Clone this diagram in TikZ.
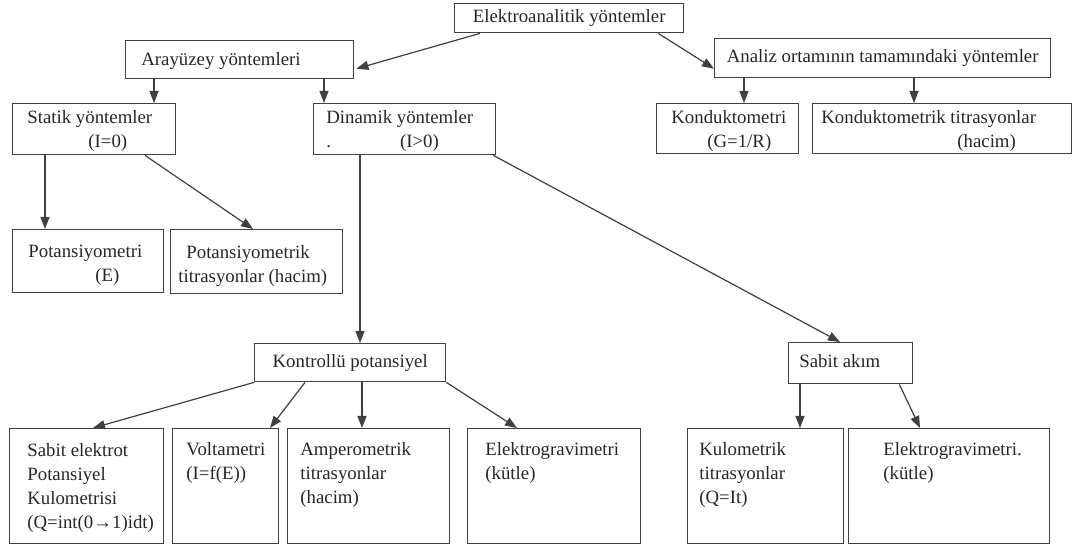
\documentclass[tikz,border=0pt]{standalone}
\usepackage{fontspec}
\setmainfont{Liberation Serif}
\usetikzlibrary{arrows.meta}

\tikzset{
    kutu/.style={draw=black!75, line width=0.7pt, anchor=north west, inner sep=0pt},
    yazi/.style={anchor=north west, align=left, inner sep=0pt, text=black!85},
    ok/.style={draw=black!75, line width=0.6pt, -{Triangle[length=6pt, width=4.5pt]}}
}

\begin{document}
\begin{tikzpicture}[x=0.5pt, y=-0.5pt, font=\fontsize{9.4}{12}\selectfont, text=black!85]
    \useasboundingbox (0,0) rectangle (1073,545);
    \path node[kutu, minimum width=114.5pt, minimum height=14.5pt] (elek) at (454,3) {Elektroanalitik yöntemler}
        node[kutu, minimum width=114pt, minimum height=19pt,
            label={[yazi, xshift=8pt, yshift=-6pt]north west:{Arayüzey yöntemleri}}] (arayuzey) at (125,40) {}
        node[kutu, minimum width=168pt, minimum height=19.5pt] (analiz) at (714,38) {Analiz ortamının tamamındaki yöntemler}
        node[kutu, minimum width=81.5pt, minimum height=25.5pt,
            label={[yazi, xshift=7.5pt, yshift=-3.5pt]north west:{Statik yöntemler\\\hspace*{30.5pt}(I=0)}}] (statik) at (12,103) {}
        node[kutu, minimum width=91pt, minimum height=25.5pt,
            label={[yazi, xshift=6.5pt, yshift=-3.5pt]north west:{Dinamik yöntemler\\.\hspace*{34.5pt}(I>0)}}] (dinamik) at (313,103) {}
         node[kutu, minimum width=71pt, minimum height=25pt,
            label={[yazi, xshift=7.5pt, yshift=-3.5pt]north west:{Konduktometri\\\hspace*{18pt}(G=1/R)}}] (kond) at (656,103) {}
         node[kutu, minimum width=129.5pt, minimum height=25pt,
            label={[yazi, xshift=4.5pt, yshift=-3.5pt]north west:{Konduktometrik titrasyonlar\\\hspace*{68pt}(hacim)}}] (kondtitr) at (812,103) {}
        node[kutu, minimum width=75.5pt, minimum height=31.5pt,
            label={[yazi, xshift=8pt, yshift=-8pt]north west:{Potansiyometri\\\hspace*{33.5pt}(E)}}] (pot) at (12,229) {}
        node[kutu, minimum width=86pt, minimum height=32pt,
            label={[yazi, xshift=4pt, yshift=-8pt]north west:{\hspace*{4pt}Potansiyometrik\\titrasyonlar (hacim)}}] (pottitr) at (170,229) {}
        node[kutu, minimum width=95.5pt, minimum height=19pt] (kontrollu) at (254,343) {Kontrollü potansiyel}
        node[kutu, minimum width=62pt, minimum height=20.5pt,
            label={[yazi, xshift=5.5pt, yshift=-6pt]north west:{Sabit akım}}] (sabitakim) at (788,342) {}
        node[kutu, minimum width=77pt, minimum height=57.5pt,
            label={[yazi, xshift=9pt, yshift=-7.5pt]north west:{Sabit elektrot\\Potansiyel\\Kulometrisi\\(Q=int(0→1)idt)}}] (sabitel) at (9,428) {}
        node[kutu, minimum width=53pt, minimum height=57.5pt,
            label={[yazi, xshift=7pt, yshift=-7pt]north west:{Voltametri\\(I=f(E))}}] (volt) at (172,428) {}
        node[kutu, minimum width=81pt, minimum height=57.5pt,
            label={[yazi, xshift=6.5pt, yshift=-7pt]north west:{Amperometrik\\titrasyonlar\\(hacim)}}] (amper) at (287,428) {}
        node[kutu, minimum width=86.5pt, minimum height=57.5pt,
            label={[yazi, xshift=9pt, yshift=-7pt]north west:{Elektrogravimetri\\(kütle)}}] (elgrav) at (467,428) {}
        node[kutu, minimum width=78pt, minimum height=57.5pt,
            label={[yazi, xshift=6pt, yshift=-7pt]north west:{Kulometrik\\titrasyonlar\\(Q=It)}}] (kulo) at (687,428) {}
        node[kutu, minimum width=100.5pt, minimum height=57.5pt,
            label={[yazi, xshift=17.5pt, yshift=-7pt]north west:{Elektrogravimetri.\\(kütle)}}] (elgrav2) at (848,428) {};
       \draw[ok] ([xshift=13pt]elek.south west) -- ([xshift=1pt, yshift=-4.5pt]arayuzey.east);
       \draw[ok] ([xshift=-13pt]elek.south east) -- ([yshift=-5.25pt]analiz.west);
        \draw[ok] ([xshift=14.5pt]arayuzey.south west) -- ([xshift=71pt]statik.north west);
        \draw[ok] ([xshift=99.5pt]arayuzey.south west) -- ([xshift=5.5pt]dinamik.north west);
        \draw[ok] ([xshift=15pt]analiz.south west) -- ([xshift=44pt]kond.north west);
        \draw[ok] ([xshift=100pt]analiz.south west) -- ([xshift=51pt]kondtitr.north west);
           \draw[ok] ([xshift=16.5pt]statik.south west) -- ([xshift=16.5pt]pot.north west);
        \draw[ok] ([xshift=66.5pt]statik.south west) -- ([xshift=41.5pt]pottitr.north west);
         \draw[ok] ([xshift=23.5pt]dinamik.south west) -- ([xshift=53pt]kontrollu.north west);
         \draw[ok] ([xshift=-1.5pt]dinamik.south east) -- ([xshift=26pt]sabitakim.north west);
        \draw[ok] (kontrollu.south west) -- ([xshift=42pt]sabitel.north west);
        \draw[ok] ([xshift=25.5pt]kontrollu.south west) -- ([xshift=49pt]volt.north west);
        \draw[ok] ([xshift=54pt]kontrollu.south west) -- ([xshift=37.5pt]amper.north west);
        \draw[ok] (kontrollu.south east) -- ([xshift=25pt]elgrav.north west);
         \draw[ok] ([xshift=6pt]sabitakim.south west) -- ([xshift=56.5pt]kulo.north west);
         \draw[ok] ([xshift=-7pt]sabitakim.south east) -- ([xshift=36pt]elgrav2.north west);
    \end{tikzpicture}
\end{document}
